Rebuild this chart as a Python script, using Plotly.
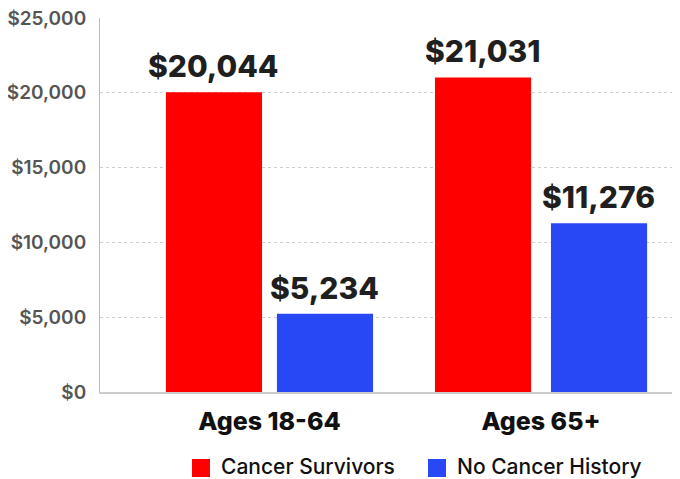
import plotly.graph_objects as go

categories = ["Ages 18-64", "Ages 65+"]
series_names = ["Cancer Survivors", "No Cancer History"]
cancer_survivors = [20044, 21031]
no_cancer_history = [5234, 11276]
colors = ["#FF0000", "#2847F5"]
y_ticks = [0, 5000, 10000, 15000, 20000, 25000]
y_tick_labels = ["$0", "$5,000", "$10,000", "$15,000", "$20,000", "$25,000"]

FONT = "Inter"
bar_w = 0.354
offsets = [[-0.3812, -0.3904], [0.0276, 0.0368]]
label_xshift = [[-55.5, -58.0], [55.5, 58.0]]

fig = go.Figure()
for name, vals, col, off, xs in zip(series_names, [cancer_survivors, no_cancer_history], colors, offsets, label_xshift):
    fig.add_trace(go.Bar(
        x=categories, y=vals, name=name,
        marker=dict(color=col, line=dict(width=0)),
        width=bar_w, offset=off,
        cliponaxis=False,
        showlegend=False,
    ))
    for c, v, s in zip(categories, vals, xs):
        fig.add_annotation(x=c, y=v, xshift=s, yshift=6, yanchor="bottom", xanchor="center",
                           text=f"${v:,}", showarrow=False,
                           font=dict(family=FONT, size=30, color="#1f1f1f", weight=800))

# page body has an 8px margin; plot area kept at x 100..680, y 18..392 in the window
fig.update_layout(
    width=672, height=471,
    margin=dict(l=92, r=0, t=10, b=87),
    paper_bgcolor="white", plot_bgcolor="white",
    barmode="group",
    xaxis=dict(
        range=[-0.624, 1.512],
        showgrid=False,
        showline=True, linecolor="#cccccc", linewidth=2,
        ticks="", ticklabelstandoff=6,
        tickfont=dict(family=FONT, size=25, color="#111111", weight=800),
        fixedrange=True,
    ),
    yaxis=dict(
        range=[0, 25000],
        tickvals=y_ticks, ticktext=y_tick_labels,
        showgrid=True, gridcolor="#cfcfcf", griddash="dot", gridwidth=1,
        showline=True, linecolor="#bbbbbb", linewidth=1,
        zeroline=False,
        ticks="", ticklabelstandoff=9, ticklabeloverflow="allow",
        tickfont=dict(family=FONT, size=19, color="#555555", weight=600),
        fixedrange=True,
    ),
)

# custom legend (window pixel positions converted to paper coords)
legend_items = [(series_names[0], colors[0], 192), (series_names[1], colors[1], 428)]
for name, col, px in legend_items:
    fig.add_shape(type="rect", xref="paper", yref="paper",
                  x0=(px - 100) / 580, x1=(px + 18 - 100) / 580,
                  y0=(392 - 477) / 374, y1=(392 - 459) / 374,
                  fillcolor=col, line=dict(width=0))
    fig.add_annotation(xref="paper", yref="paper", x=(px + 27 - 100) / 580, y=(392 - 467) / 374,
                       xanchor="left", yanchor="middle", text=name, showarrow=False,
                       font=dict(family=FONT, size=21, color="#111111", weight=500))

fig.write_html("out.html")
